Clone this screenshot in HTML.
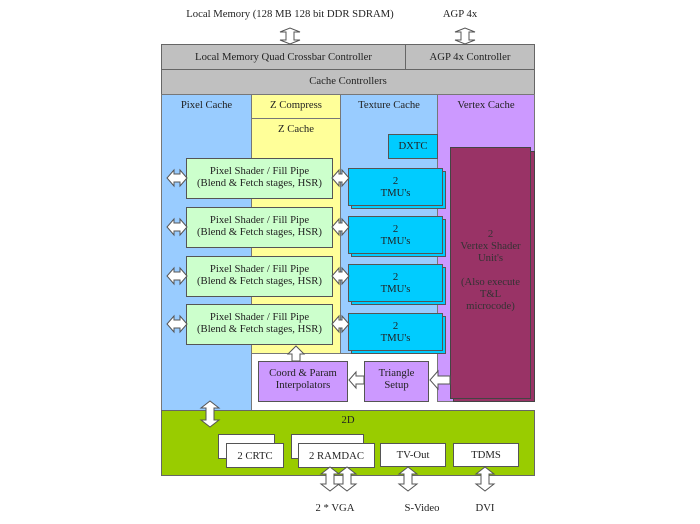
<!DOCTYPE html>
<html><head><style>
body{margin:0;background:#fff;width:700px;height:524px;position:relative;overflow:hidden;font-family:"Liberation Serif",serif;font-size:10.7px;color:#222}
.b{position:absolute;box-sizing:border-box;text-align:center;line-height:12px;white-space:nowrap}
svg{position:absolute;left:0;top:0}
</style></head><body>
<div class="b" style="left:160px;top:8px;width:260px">Local Memory (128 MB 128 bit DDR SDRAM)</div>
<div class="b" style="left:430px;top:8px;width:60px">AGP 4x</div>

<div class="b" style="left:161px;top:44px;width:245px;height:26px;background:#c0c0c0;border:1px solid #666;padding-top:6px">Local Memory Quad Crossbar Controller</div>
<div class="b" style="left:405px;top:44px;width:130px;height:26px;background:#c0c0c0;border:1px solid #666;padding-top:6px">AGP 4x Controller</div>
<div class="b" style="left:161px;top:69px;width:374px;height:26px;background:#c0c0c0;border:1px solid #666;padding-top:5px">Cache Controllers</div>

<div class="b" style="left:161px;top:94px;width:91px;height:317px;background:#99ccff;border:1px solid #777;padding-top:4px">Pixel Cache</div>
<div class="b" style="left:251px;top:94px;width:90px;height:25px;background:#ffff99;border:1px solid #777;padding-top:4px">Z Compress</div>
<div class="b" style="left:251px;top:118px;width:90px;height:236px;background:#ffff99;border:1px solid #777;padding-top:4px">Z Cache</div>
<div class="b" style="left:340px;top:94px;width:98px;height:260px;background:#99ccff;border:1px solid #777;padding-top:4px">Texture Cache</div>
<div class="b" style="left:437px;top:94px;width:98px;height:308px;background:#cc99ff;border:1px solid #777;padding-top:4px">Vertex Cache</div>
<div class="b" style="left:388px;top:134px;width:50px;height:25px;background:#00ccff;border:1px solid #555;padding-top:5px">DXTC</div>

<div class="b" style="left:453px;top:151px;width:82px;height:251px;background:#993366;border:1px solid #444"></div>
<div class="b" style="left:450px;top:147px;width:81px;height:252px;background:#993366;border:1px solid #444;color:#333;padding-top:80px">2<br>Vertex Shader<br>Unit's<br><br>(Also execute<br>T&amp;L<br>microcode)</div>

<div class="b" style="left:186px;top:158px;width:147px;height:41px;background:#ccffcc;border:1px solid #555;padding-top:6px">Pixel Shader / Fill Pipe<br>(Blend &amp; Fetch stages, HSR)</div>
<div class="b" style="left:186px;top:207px;width:147px;height:41px;background:#ccffcc;border:1px solid #555;padding-top:6px">Pixel Shader / Fill Pipe<br>(Blend &amp; Fetch stages, HSR)</div>
<div class="b" style="left:186px;top:256px;width:147px;height:41px;background:#ccffcc;border:1px solid #555;padding-top:6px">Pixel Shader / Fill Pipe<br>(Blend &amp; Fetch stages, HSR)</div>
<div class="b" style="left:186px;top:304px;width:147px;height:41px;background:#ccffcc;border:1px solid #555;padding-top:6px">Pixel Shader / Fill Pipe<br>(Blend &amp; Fetch stages, HSR)</div>

<div class="b" style="left:351px;top:171px;width:95px;height:38px;background:#00ccff;border:1px solid #555"></div>
<div class="b" style="left:348px;top:168px;width:95px;height:38px;background:#00ccff;border:1px solid #555;padding-top:6px">2<br>TMU's</div>
<div class="b" style="left:351px;top:219px;width:95px;height:38px;background:#00ccff;border:1px solid #555"></div>
<div class="b" style="left:348px;top:216px;width:95px;height:38px;background:#00ccff;border:1px solid #555;padding-top:6px">2<br>TMU's</div>
<div class="b" style="left:351px;top:267px;width:95px;height:38px;background:#00ccff;border:1px solid #555"></div>
<div class="b" style="left:348px;top:264px;width:95px;height:38px;background:#00ccff;border:1px solid #555;padding-top:6px">2<br>TMU's</div>
<div class="b" style="left:351px;top:316px;width:95px;height:38px;background:#00ccff;border:1px solid #555"></div>
<div class="b" style="left:348px;top:313px;width:95px;height:38px;background:#00ccff;border:1px solid #555;padding-top:6px">2<br>TMU's</div>

<div class="b" style="left:258px;top:361px;width:90px;height:41px;background:#cc99ff;border:1px solid #555;padding-top:5px">Coord &amp; Param<br>Interpolators</div>
<div class="b" style="left:364px;top:361px;width:65px;height:41px;background:#cc99ff;border:1px solid #555;padding-top:5px">Triangle<br>Setup</div>

<div class="b" style="left:161px;top:410px;width:374px;height:66px;background:#99cc00;border:1px solid #666;padding-top:3px">2D</div>
<div class="b" style="left:218px;top:434px;width:57px;height:25px;background:#fff;border:1px solid #555"></div>
<div class="b" style="left:226px;top:443px;width:58px;height:25px;background:#fff;border:1px solid #555;padding-top:6px">2 CRTC</div>
<div class="b" style="left:291px;top:434px;width:73px;height:25px;background:#fff;border:1px solid #555"></div>
<div class="b" style="left:298px;top:443px;width:77px;height:25px;background:#fff;border:1px solid #555;padding-top:6px">2 RAMDAC</div>
<div class="b" style="left:380px;top:443px;width:66px;height:24px;background:#fff;border:1px solid #555;padding-top:5px">TV-Out</div>
<div class="b" style="left:453px;top:443px;width:66px;height:24px;background:#fff;border:1px solid #555;padding-top:5px">TDMS</div>

<div class="b" style="left:305px;top:502px;width:60px">2 * VGA</div>
<div class="b" style="left:392px;top:502px;width:60px">S-Video</div>
<div class="b" style="left:460px;top:502px;width:50px">DVI</div>

<svg width="700" height="524" viewBox="0 0 700 524">
<g fill="#fff" stroke="#555" stroke-width="1">
<polygon points="286,36 286,32 280,32 290,28 300,32 294,32 294,40 300,40 290,44 280,40 286,40"/>
<polygon points="461,36 461,32 455,32 465,28 475,32 469,32 469,40 475,40 465,44 455,40 461,40"/>
<polygon points="206,408 201,408 210,401 219,408 214,408 214,420 219,420 210,427 201,420 206,420"/>
<polygon points="292,354 288,354 296,346 304,354 300,354 300,361 292,361"/>
<polygon points="326,474 321,474 330,467 339,474 334,474 334,484 339,484 330,491 321,484 326,484"/>
<polygon points="343,474 338,474 347,467 356,474 351,474 351,484 356,484 347,491 338,484 343,484"/>
<polygon points="404,474 399,474 408,467 417,474 412,474 412,484 417,484 408,491 399,484 404,484"/>
<polygon points="481,474 476,474 485,467 494,474 489,474 489,484 494,484 485,491 476,484 481,484"/>
<g id="h1"><polygon points="174,174 174,170 167,178 174,186 174,182 180,182 180,186 187,178 180,170 180,174"/>
<polygon points="339,174 339,170 332,178 339,186 339,182 342,182 342,186 349,178 342,170 342,174"/></g>
<use href="#h1" y="49"/><use href="#h1" y="98"/><use href="#h1" y="146"/>
<polygon points="364,376 356,376 356,372 349,380 356,388 356,384 364,384"/>
<polygon points="450,376 438,376 438,371 430,380 438,389 438,384 450,384"/>
</g>
</svg>
</body></html>
